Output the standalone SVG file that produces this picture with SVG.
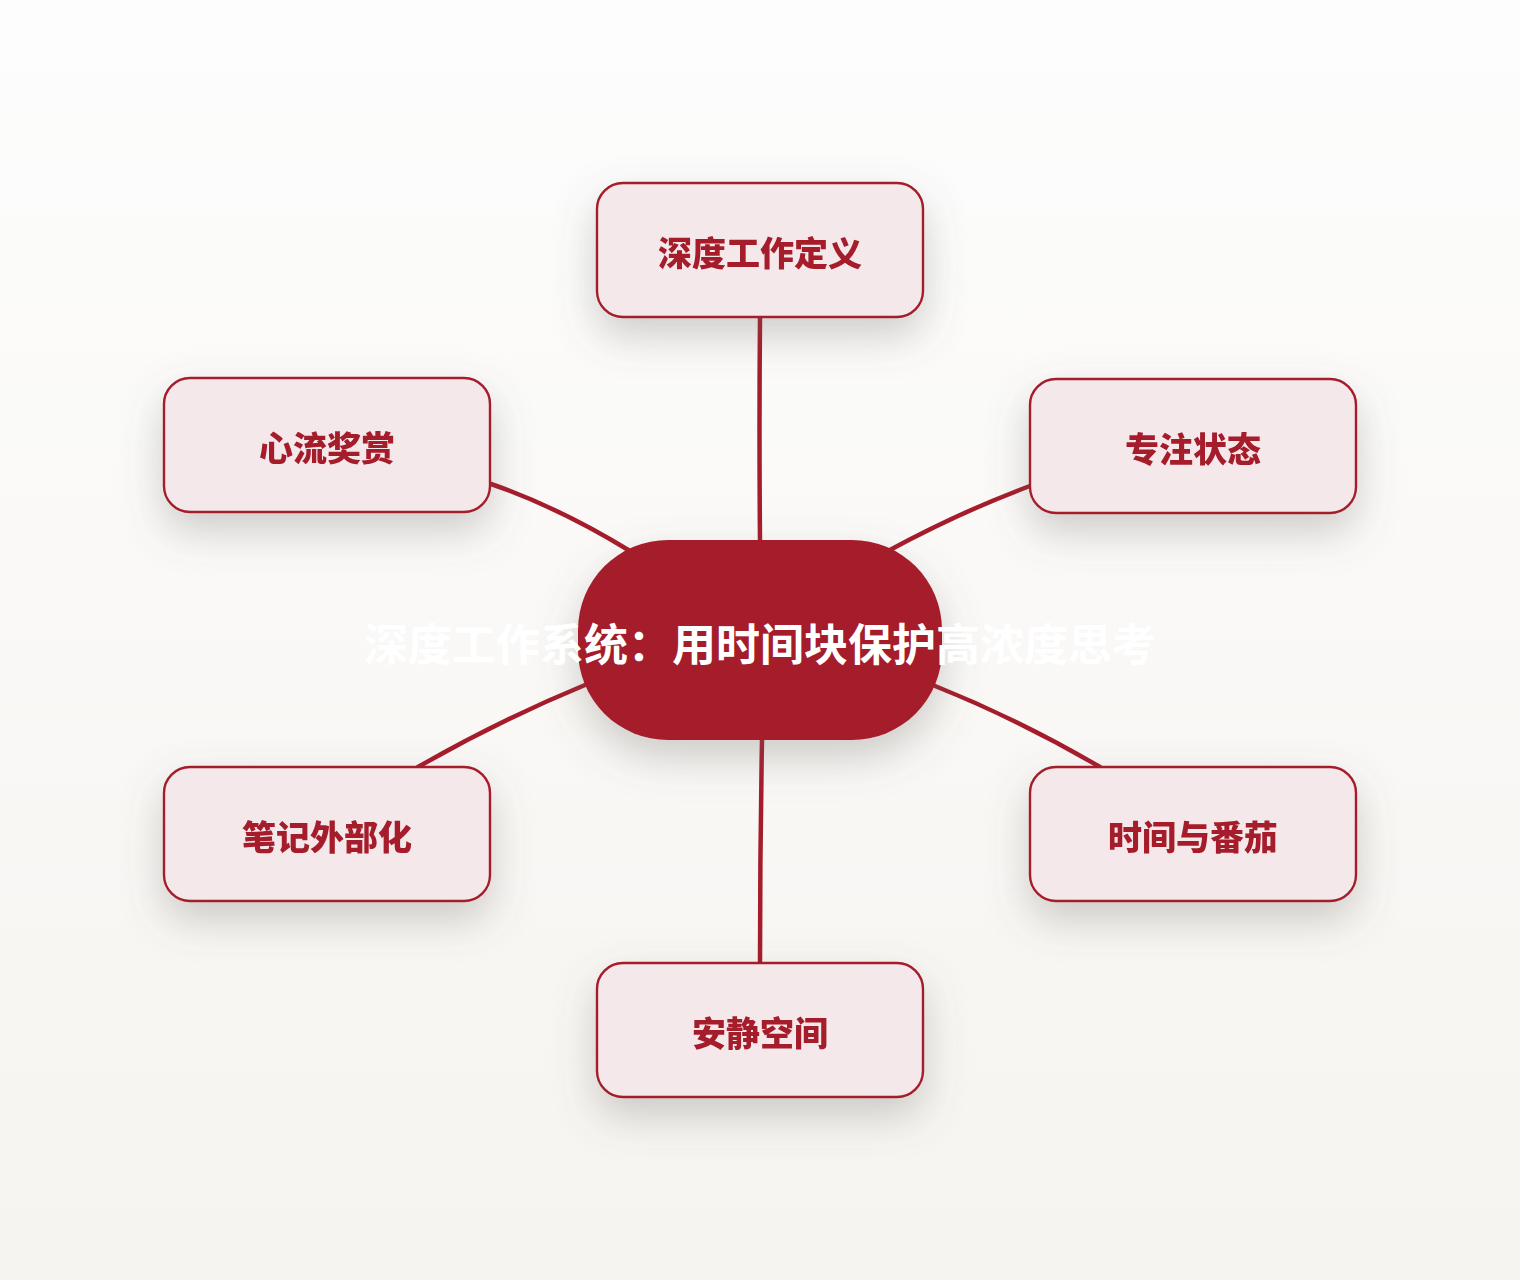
<svg xmlns="http://www.w3.org/2000/svg" width="1520" height="1280" viewBox="0 0 1520 1280">
<defs>
<linearGradient id="bg" x1="0" y1="0" x2="0" y2="1">
<stop offset="0" stop-color="#fdfdfd"/>
<stop offset="1" stop-color="#f6f4f0"/>
</linearGradient>
<filter id="sh" x="-40%" y="-40%" width="180%" height="210%">
<feDropShadow dx="0" dy="18" stdDeviation="20" flood-color="#6b6660" flood-opacity="0.3"/>
</filter>
</defs>
<style>
.node rect{fill:#f5e8ea;stroke:#a51c2b;stroke-width:2.4}
.node text{font-family:"Noto Sans CJK SC","Noto Sans",sans-serif;font-weight:900;font-size:34px;fill:#a51c2b;text-anchor:middle;dominant-baseline:central}
.edge{fill:none;stroke:#a51c2b;stroke-width:4.5;stroke-linecap:round}
.center rect{fill:#a51c2b}
.center text{font-family:"Noto Sans CJK SC","Noto Sans",sans-serif;font-weight:700;font-size:44px;fill:#ffffff;text-anchor:middle;dominant-baseline:central}
</style>
<rect width="1520" height="1280" fill="url(#bg)"/>
<g id="connectors">
<path class="edge" d="M760 317 Q759 430 760 540"/>
<path class="edge" d="M491 484 Q560 508 630 551"/>
<path class="edge" d="M1030 486 Q960 512 888 551"/>
<path class="edge" d="M585 685 Q500 720 418 767"/>
<path class="edge" d="M935 686 Q1020 720 1100 767"/>
<path class="edge" d="M762 740 Q760 850 760 963"/>
</g>
<g id="center" class="center" filter="url(#sh)">
<rect x="578" y="540" width="364" height="200" rx="90" ry="90"/>
</g>
<g id="center-label" class="center">
<text x="760" y="642">深度工作系统：用时间块保护高浓度思考</text>
</g>
<g id="n1" class="node" filter="url(#sh)">
<rect x="597" y="183" width="326" height="134" rx="26"/>
<text x="760" y="251">深度工作定义</text>
</g>
<g id="n2" class="node" filter="url(#sh)">
<rect x="1030" y="379" width="326" height="134" rx="26"/>
<text x="1193" y="447">专注状态</text>
</g>
<g id="n3" class="node" filter="url(#sh)">
<rect x="1030" y="767" width="326" height="134" rx="26"/>
<text x="1193" y="835">时间与番茄</text>
</g>
<g id="n4" class="node" filter="url(#sh)">
<rect x="597" y="963" width="326" height="134" rx="26"/>
<text x="760" y="1031">安静空间</text>
</g>
<g id="n5" class="node" filter="url(#sh)">
<rect x="164" y="767" width="326" height="134" rx="26"/>
<text x="327" y="835">笔记外部化</text>
</g>
<g id="n6" class="node" filter="url(#sh)">
<rect x="164" y="378" width="326" height="134" rx="26"/>
<text x="327" y="446">心流奖赏</text>
</g>
</svg>
